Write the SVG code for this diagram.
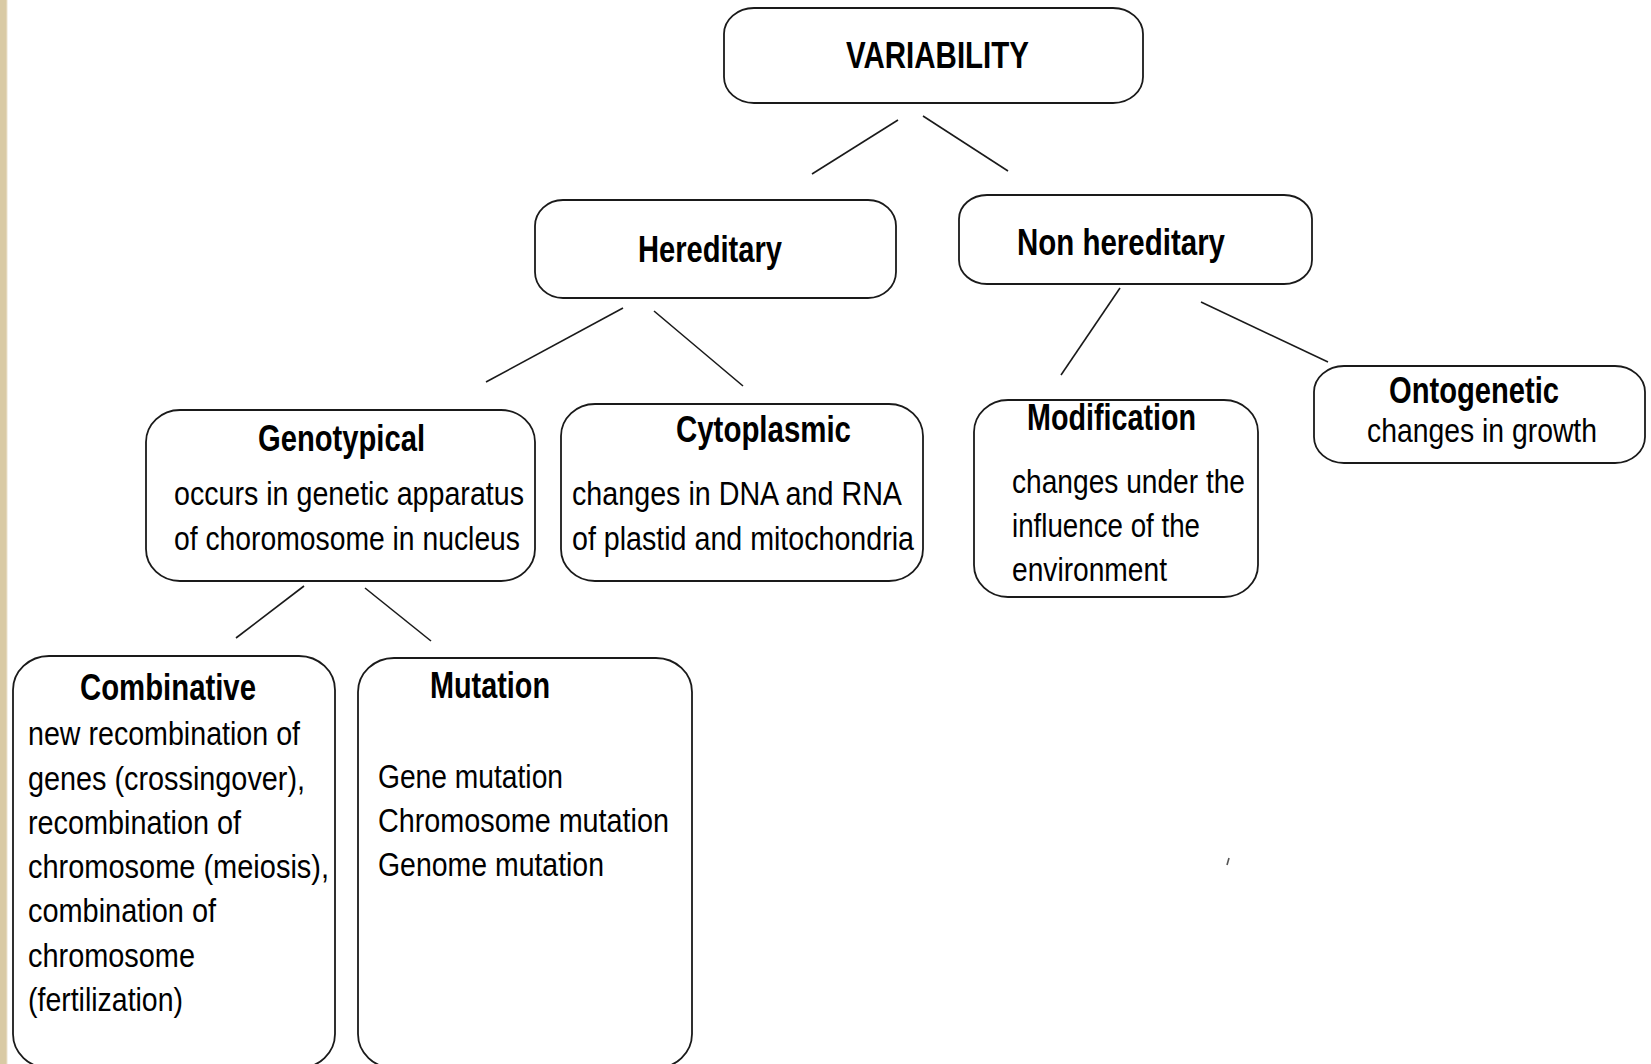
<svg xmlns="http://www.w3.org/2000/svg" width="1651" height="1064" viewBox="0 0 1651 1064">
  <style>
    .box { fill: #ffffff; stroke: #1a1a1a; stroke-width: 1.8; }
    .title { font-family: "Liberation Sans", Arial, sans-serif; font-weight: bold; font-size: 36px; fill: #000; }
    .body { font-family: "Liberation Sans", Arial, sans-serif; font-size: 33px; fill: #000; }
    .link { stroke: #1a1a1a; stroke-width: 1.6; fill: none; }
  </style>
  <rect x="0" y="0" width="1651" height="1064" fill="#ffffff"/>
  <!-- textured margin strip on the left -->
  <rect x="0" y="0" width="7" height="1064" fill="#d9caa4"/>
  <line x1="7" y1="0" x2="7" y2="1064" stroke="#ece3cf" stroke-width="1"/>

  <g id="connectors">
    <line class="link" x1="898" y1="120" x2="812" y2="174"/>
    <line class="link" x1="923" y1="116" x2="1008" y2="171"/>
    <line class="link" x1="623" y1="308" x2="486" y2="382"/>
    <line class="link" x1="654" y1="311" x2="743" y2="386"/>
    <line class="link" x1="1120" y1="288" x2="1061" y2="375"/>
    <line class="link" x1="1201" y1="302" x2="1328" y2="362"/>
    <line class="link" x1="304" y1="586" x2="236" y2="638"/>
    <line class="link" x1="365" y1="588" x2="431" y2="641"/>
  </g>

  <g id="variability">
    <rect class="box" x="724" y="8" width="419" height="95" rx="30" ry="26"/>
    <text class="title" x="846" y="68" textLength="183" lengthAdjust="spacingAndGlyphs">VARIABILITY</text>
  </g>

  <g id="hereditary">
    <rect class="box" x="535" y="200" width="361" height="98" rx="28" ry="26"/>
    <text class="title" x="638" y="262" textLength="144" lengthAdjust="spacingAndGlyphs">Hereditary</text>
  </g>

  <g id="non-hereditary">
    <rect class="box" x="959" y="195" width="353" height="89" rx="28" ry="24"/>
    <text class="title" x="1017" y="255" textLength="208" lengthAdjust="spacingAndGlyphs">Non hereditary</text>
  </g>

  <g id="genotypical">
    <rect class="box" x="146" y="410" width="389" height="171" rx="34" ry="32"/>
    <text class="title" x="258" y="451" textLength="167" lengthAdjust="spacingAndGlyphs">Genotypical</text>
    <text class="body" x="174" y="505" textLength="350" lengthAdjust="spacingAndGlyphs">occurs in genetic apparatus</text>
    <text class="body" x="174" y="550" textLength="346" lengthAdjust="spacingAndGlyphs">of choromosome in nucleus</text>
  </g>

  <g id="cytoplasmic">
    <rect class="box" x="561" y="404" width="362" height="177" rx="34" ry="32"/>
    <text class="title" x="676" y="442" textLength="175" lengthAdjust="spacingAndGlyphs">Cytoplasmic</text>
    <text class="body" x="572" y="505" textLength="330" lengthAdjust="spacingAndGlyphs">changes in DNA and RNA</text>
    <text class="body" x="572" y="550" textLength="342" lengthAdjust="spacingAndGlyphs">of plastid and mitochondria</text>
  </g>

  <g id="modification">
    <rect class="box" x="974" y="400" width="284" height="197" rx="34" ry="32"/>
    <text class="title" x="1027" y="430" textLength="169" lengthAdjust="spacingAndGlyphs">Modification</text>
    <text class="body" x="1012" y="493" textLength="233" lengthAdjust="spacingAndGlyphs">changes under the</text>
    <text class="body" x="1012" y="537" textLength="188" lengthAdjust="spacingAndGlyphs">influence of the</text>
    <text class="body" x="1012" y="581" textLength="155" lengthAdjust="spacingAndGlyphs">environment</text>
  </g>

  <g id="ontogenetic">
    <rect class="box" x="1314" y="366" width="331" height="97" rx="30" ry="26"/>
    <text class="title" x="1389" y="403" textLength="170" lengthAdjust="spacingAndGlyphs">Ontogenetic</text>
    <text class="body" x="1367" y="442" textLength="230" lengthAdjust="spacingAndGlyphs">changes in growth</text>
  </g>

  <g id="combinative">
    <rect class="box" x="13" y="656" width="322" height="412" rx="36" ry="34"/>
    <text class="title" x="80" y="700" textLength="176" lengthAdjust="spacingAndGlyphs">Combinative</text>
    <text class="body" x="28" y="745" textLength="272" lengthAdjust="spacingAndGlyphs">new recombination of</text>
    <text class="body" x="28" y="790" textLength="277" lengthAdjust="spacingAndGlyphs">genes (crossingover),</text>
    <text class="body" x="28" y="834" textLength="213" lengthAdjust="spacingAndGlyphs">recombination of</text>
    <text class="body" x="28" y="878" textLength="301" lengthAdjust="spacingAndGlyphs">chromosome (meiosis),</text>
    <text class="body" x="28" y="922" textLength="188" lengthAdjust="spacingAndGlyphs">combination of</text>
    <text class="body" x="28" y="967" textLength="167" lengthAdjust="spacingAndGlyphs">chromosome</text>
    <text class="body" x="28" y="1011" textLength="155" lengthAdjust="spacingAndGlyphs">(fertilization)</text>
  </g>

  <g id="mutation">
    <rect class="box" x="358" y="658" width="334" height="410" rx="36" ry="34"/>
    <text class="title" x="430" y="698" textLength="120" lengthAdjust="spacingAndGlyphs">Mutation</text>
    <text class="body" x="378" y="788" textLength="185" lengthAdjust="spacingAndGlyphs">Gene mutation</text>
    <text class="body" x="378" y="832" textLength="291" lengthAdjust="spacingAndGlyphs">Chromosome mutation</text>
    <text class="body" x="378" y="876" textLength="226" lengthAdjust="spacingAndGlyphs">Genome mutation</text>
  </g>

  <!-- small stray tick -->
  <path d="M1229,858 L1227,865" stroke="#555" stroke-width="1.6" fill="none"/>
</svg>
